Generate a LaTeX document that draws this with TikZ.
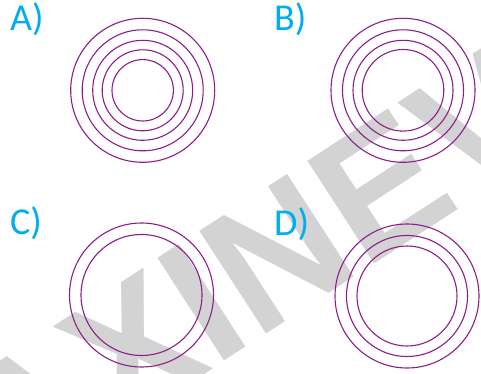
\documentclass[tikz,border=0pt]{standalone}
\usepackage{fontspec}
\setmainfont{Carlito}
\newfontfamily\wmfont{Liberation Sans}
\definecolor{ringcol}{RGB}{140,30,140}
\definecolor{labcol}{RGB}{0,174,239}
\definecolor{wmcol}{RGB}{211,211,211}
\tikzset{
  ring/.style={draw=ringcol, line width=1.1pt},
  lab/.style={anchor=base west, inner sep=0pt, text=labcol, font=\fontsize{38}{38}\selectfont},
  wmark/.style={anchor=base west, inner sep=0pt, text=wmcol, rotate=33, font=\wmfont\bfseries\fontsize{178}{178}\selectfont}
}
\begin{document}
\begin{tikzpicture}[x=1pt,y=-1pt]
\useasboundingbox (0,0) rectangle (481,374);
\begin{scope}
\clip (0,0) rectangle (481,374);
\node[wmark] (wm) at (7.2,502.7) {AXINEV};
\end{scope}
% A
\foreach \r in {72,60.5,50,40.5,30.7} \draw[ring] (142.7,90.3) circle (\r);
% B
\foreach \r in {72,60.5,50,40.8} \draw[ring] (403,90.3) circle (\r);
% C
\foreach \r in {72,60.5} \draw[ring] (141.5,295) circle (\r);
% D
\foreach \r in {72,60.5,50} \draw[ring] (407,296) circle (\r);
\node[lab] (la) at (10,30.5) {A)};
\node[lab] (lb) at (274,30.5) {B)};
\node[lab] (lc) at (10,234.5) {C)};
\node[lab] (ld) at (274,235) {D)};
\end{tikzpicture}
\end{document}
